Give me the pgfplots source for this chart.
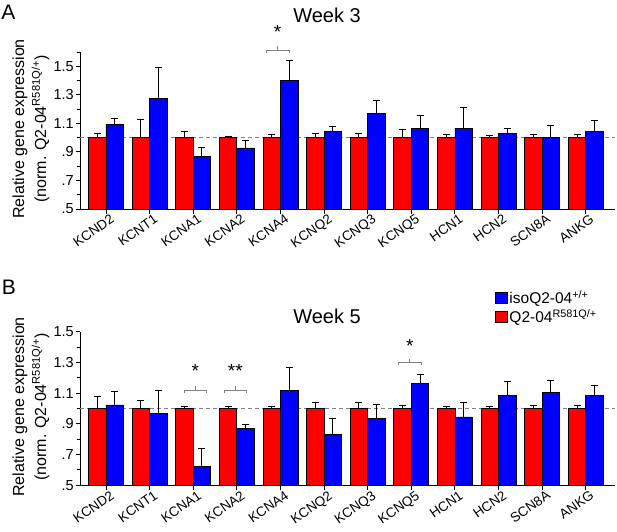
\documentclass[border=0pt]{standalone}
\usepackage{fontspec}
\setmainfont{Liberation Sans}
\usepackage{pgfplots}
\pgfplotsset{compat=1.18}
\definecolor{myred}{RGB}{255,0,0}
\definecolor{myblue}{RGB}{0,0,255}
\definecolor{brk}{RGB}{130,130,130}
\tikzset{
  brkline/.style={brk, line width=0.8pt},
  star/.style={inner sep=0pt, font=\fontsize{19}{19}\selectfont},
}
\pgfplotsset{
  panel/.style={
    scale only axis, width=535pt,
    xmin=-0.596, xmax=11.67,
    axis lines=left, axis line style={-, line width=1pt},
    tick align=outside, major tick length=4.5pt, minor tick length=3.5pt,
    tick style={black, line width=0.9pt},
    xtick={0,...,11},
    xticklabels={KCND2,KCNT1,KCNA1,KCNA2,KCNA4,KCNQ2,KCNQ3,KCNQ5,HCN1,HCN2,SCN8A,ANKG},
    xticklabel style={rotate=35, anchor=north east, font=\fontsize{13.5}{15}\selectfont, inner sep=1pt, xshift=4pt, yshift=-1pt},
    ytick={0.5,0.7,0.9,1.1,1.3,1.5},
    yticklabels={.5,.7,.9,1.1,1.3,1.5},
    minor ytick={0.6,0.8,1.0,1.2,1.4,1.6},
    yticklabel style={font=\fontsize{14.5}{16}\selectfont, inner sep=1.5pt},
    ylabel={Relative gene expression\\(norm. Q2-04\textsuperscript{R581Q/+})},
    ylabel style={at={(axis description cs:-0.0916,0.51)}, anchor=center, align=center, font=\fontsize{16}{22}\selectfont},
    clip=false,
  },
  redbar/.style={ybar, bar width=0.4, bar shift=0, fill=myred, draw=black, line width=0.8pt,
    error bars/.cd, y dir=plus, y explicit, error bar style={black, line width=1pt},
    error mark options={black, line width=1pt, mark size=3.5pt, rotate=90}},
  bluebar/.style={ybar, bar width=0.4, bar shift=0, fill=myblue, draw=black, line width=0.8pt,
    error bars/.cd, y dir=plus, y explicit, error bar style={black, line width=1pt},
    error mark options={black, line width=1pt, mark size=3.5pt, rotate=90}},
  refline/.style={forget plot, brk, dash pattern=on 4pt off 3pt, line width=0.8pt},
}
\begin{document}
\begin{tikzpicture}
\useasboundingbox (0pt,0pt) rectangle (617pt,531pt);
% Panel A
\begin{axis}[panel, at={(80pt,322pt)}, anchor=south west, height=157pt, ymin=0.5, ymax=1.6]
\addplot[refline] coordinates {(-0.596,1) (11.67,1)};
\addplot[redbar] coordinates {
(-0.2,1.00) +- (0,0.028) (0.8,1.00) +- (0,0.129) (1.8,1.00) +- (0,0.042) (2.8,1.00) +- (0,0.010)
(3.8,1.00) +- (0,0.019) (4.8,1.00) +- (0,0.031) (5.8,1.00) +- (0,0.031) (6.8,1.00) +- (0,0.054)
(7.8,1.00) +- (0,0.021) (8.8,1.00) +- (0,0.012) (9.8,1.00) +- (0,0.021) (10.8,1.00) +- (0,0.021)};
\addplot[bluebar] coordinates {
(0.2,1.094) +- (0,0.042) (1.2,1.272) +- (0,0.218) (2.2,0.867) +- (0,0.061) (3.2,0.928) +- (0,0.052)
(4.2,1.398) +- (0,0.142) (5.2,1.042) +- (0,0.033) (6.2,1.167) +- (0,0.096) (7.2,1.066) +- (0,0.089)
(8.2,1.066) +- (0,0.145) (9.2,1.031) +- (0,0.032) (10.2,1.000) +- (0,0.085) (11.2,1.042) +- (0,0.076)};
\draw[brkline] (axis cs:3.67,1.593) -- (axis cs:3.67,1.611) -- (axis cs:4.20,1.611) -- (axis cs:4.20,1.593);
\draw[brkline] (axis cs:3.935,1.611) -- (axis cs:3.935,1.644);
\node[star] at (axis cs:3.935,1.742) {*};
\end{axis}
% Panel B
\begin{axis}[panel, at={(80pt,45.7pt)}, anchor=south west, height=153.6pt, ymin=0.5, ymax=1.5,
  minor ytick={0.6,0.8,1.0,1.2,1.4},
  reverse legend,
  legend style={at={(rel axis cs:0.776,1.284)}, anchor=north west, draw=none, fill=none,
    font=\fontsize{15.5}{18}\selectfont, inner sep=0pt, row sep=0.6pt, cells={anchor=west}},
  legend image code/.code={\draw[#1, draw=black, line width=0.6pt] (0pt,-5.3pt) rectangle (11.5pt,5.3pt);},
]
\addplot[refline] coordinates {(-0.596,1) (11.67,1)};
\addplot[redbar] coordinates {
(-0.2,1.00) +- (0,0.080) (0.8,1.00) +- (0,0.049) (1.8,1.00) +- (0,0.012) (2.8,1.00) +- (0,0.012)
(3.8,1.00) +- (0,0.014) (4.8,1.00) +- (0,0.041) (5.8,1.00) +- (0,0.041) (6.8,1.00) +- (0,0.021)
(7.8,1.00) +- (0,0.012) (8.8,1.00) +- (0,0.012) (9.8,1.00) +- (0,0.021) (10.8,1.00) +- (0,0.021)};
\addlegendentry{Q2-04\textsuperscript{R581Q/+}}
\addplot[bluebar] coordinates {
(0.2,1.023) +- (0,0.085) (1.2,0.967) +- (0,0.147) (2.2,0.621) +- (0,0.120) (3.2,0.869) +- (0,0.028)
(4.2,1.116) +- (0,0.154) (5.2,0.832) +- (0,0.104) (6.2,0.936) +- (0,0.087) (7.2,1.164) +- (0,0.059)
(8.2,0.945) +- (0,0.096) (9.2,1.086) +- (0,0.089) (10.2,1.106) +- (0,0.078) (11.2,1.086) +- (0,0.065)};
\addlegendentry{isoQ2-04\textsuperscript{+/+}}
\draw[brkline] (axis cs:1.8,1.102) -- (axis cs:1.8,1.121) -- (axis cs:2.3,1.121) -- (axis cs:2.3,1.102);
\draw[brkline] (axis cs:2.05,1.121) -- (axis cs:2.05,1.145);
\node[star] at (axis cs:2.05,1.245) {*};
\draw[brkline] (axis cs:2.71,1.102) -- (axis cs:2.71,1.121) -- (axis cs:3.22,1.121) -- (axis cs:3.22,1.102);
\draw[brkline] (axis cs:2.965,1.121) -- (axis cs:2.965,1.145);
\node[star] at (axis cs:2.965,1.245) {**};
\draw[brkline] (axis cs:6.71,1.280) -- (axis cs:6.71,1.299) -- (axis cs:7.22,1.299) -- (axis cs:7.22,1.280);
\draw[brkline] (axis cs:6.965,1.299) -- (axis cs:6.965,1.323);
\node[star] at (axis cs:6.965,1.41) {*};
\end{axis}
% Titles and panel letters
\node[font=\fontsize{20}{20}\selectfont] at (327pt,516pt) {Week 3};
\node[font=\fontsize{20}{20}\selectfont] at (327pt,214.3pt) {Week 5};
\node[font=\fontsize{21}{21}\selectfont] at (8.5pt,518.5pt) {A};
\node[font=\fontsize{21}{21}\selectfont] at (9pt,243.5pt) {B};
\end{tikzpicture}
\end{document}
